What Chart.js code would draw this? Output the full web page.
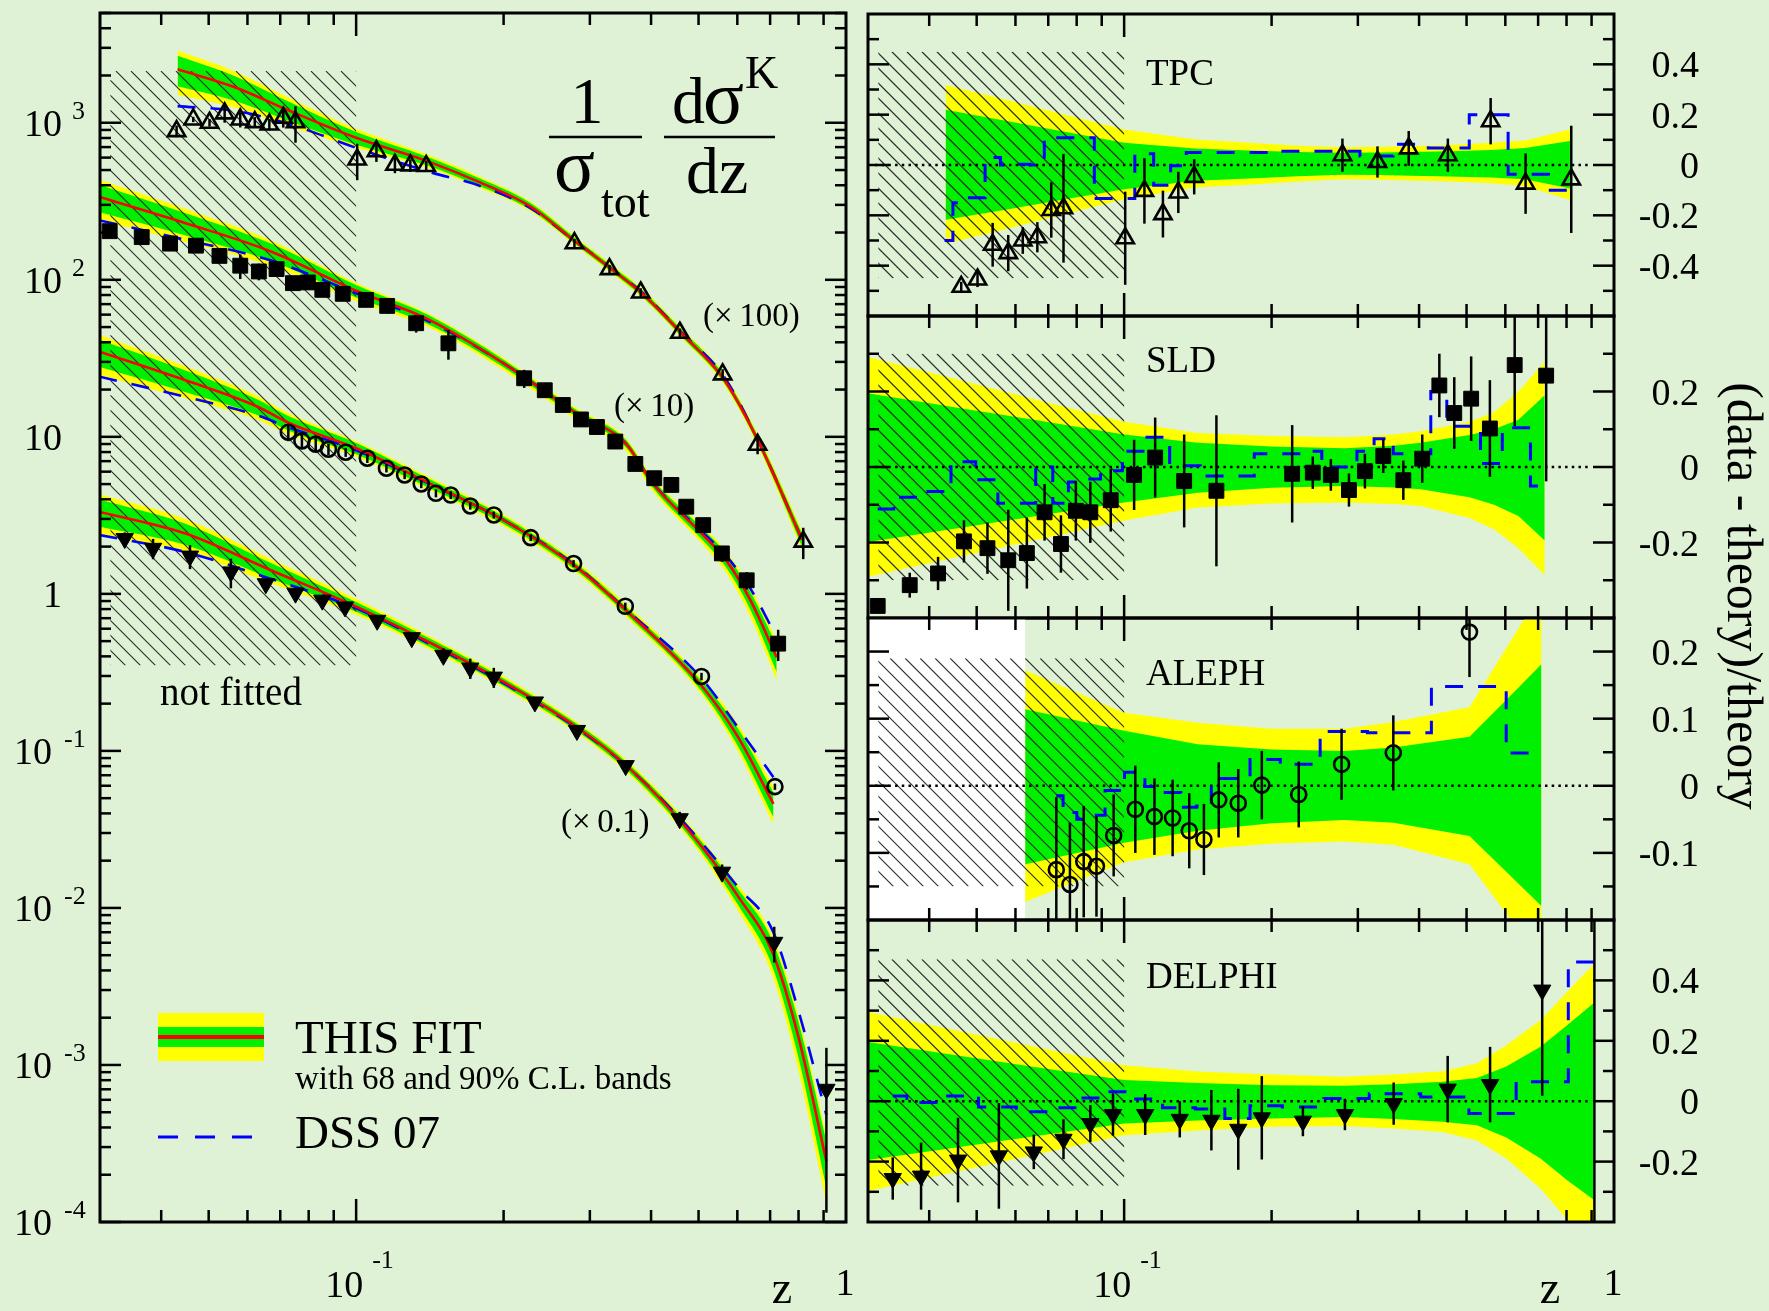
<!DOCTYPE html>
<html>
<head>
<meta charset="utf-8">
<title>Kaon fragmentation in e+e- annihilation: data, fit and DSS 07</title>
<script src="https://cdn.jsdelivr.net/npm/chart.js@4.4.1/dist/chart.umd.min.js"></script>
<style>
  html, body { margin: 0; padding: 0; background: #dff2d5; }
  #stage { position: relative; width: 1769px; height: 1311px; overflow: hidden; }
  #stage canvas { position: absolute; left: 0; top: 0; }
</style>
</head>
<body>
<div id="stage">
  <canvas id="cxs" width="1769" height="1311"></canvas>
  <canvas id="rTPC" width="1769" height="1311"></canvas>
  <canvas id="rSLD" width="1769" height="1311"></canvas>
  <canvas id="rALEPH" width="1769" height="1311"></canvas>
  <canvas id="rDELPHI" width="1769" height="1311"></canvas>
</div>
<script>
// ---------------- axes ----------------
const zMin = 0.03, zMax = 1;
const zMinorTicks = [0.04, 0.05, 0.06, 0.07, 0.08, 0.09, 0.2, 0.3, 0.4, 0.5, 0.6, 0.7, 0.8, 0.9];
const zMajorTicks = [0.1];
const zeroLineZ = [0.031, 0.9];
const hatchZ = [0.0315, 0.1];

// ---------------- TPC (x100) ----------------
const tpcZ       = [0.043, 0.0465, 0.0502, 0.0539, 0.058, 0.0621, 0.0665, 0.071, 0.0752, 0.1005, 0.110, 0.120, 0.129, 0.139, 0.279, 0.329, 0.381, 0.458, 0.56, 0.66, 0.818];
const tpcData    = [8.85, 10.5, 10.0, 11.47, 10.5, 10.1, 9.75, 10.76, 10.1, 5.83, 6.59, 5.4, 5.35, 5.3, 1.71, 1.17, 0.83, 0.46, 0.25, 0.089, 0.0215];
const tpcRatio   = [-0.65, -0.484, -0.455, -0.317, -0.35, -0.30, -0.287, -0.179, -0.172, -0.291, -0.103, -0.195, -0.109, -0.047, 0.039, 0.012, 0.066, 0.039, 0.174, -0.074, -0.057];
const tpcRatioErr= [0.03, 0.02, 0.03, 0.087, 0.072, 0.053, 0.06, 0.11, 0.216, 0.185, 0.13, 0.093, 0.082, 0.07, 0.066, 0.062, 0.069, 0.066, 0.092, 0.12, 0.213];
const tpcDss     = [-0.30, -0.15, -0.13, 0.03, 0.0, 0.003, 0.0, 0.108, 0.108, -0.133, 0.045, -0.08, -0.003, 0.05, 0.055, 0.036, 0.082, 0.068, 0.2, -0.037, -0.1];
const tpcNodeZ   = [0.0432, 0.0569, 0.0733, 0.1, 0.1396, 0.18, 0.2265, 0.2786, 0.331, 0.385, 0.462, 0.562, 0.659, 0.813];
const tpcFit     = [21.88, 16.71, 11.87, 8.02, 5.7, 4.14, 2.94, 1.78, 1.18, 0.81, 0.455, 0.235, 0.0967, 0.0222];
const tpcDssFit  = [12.77, 11.87, 9.76, 6.92, 4.91, 3.94, 2.87, 1.78, 1.19, 0.82, 0.46, 0.245, 0.0975, 0.0222];
const tpcUp90    = [0.318, 0.261, 0.207, 0.141, 0.101, 0.088, 0.076, 0.071, 0.073, 0.075, 0.079, 0.088, 0.097, 0.141];
const tpcUp68    = [0.22, 0.177, 0.137, 0.088, 0.066, 0.058, 0.052, 0.049, 0.05, 0.052, 0.055, 0.06, 0.068, 0.095];
const tpcLo68    = [-0.218, -0.179, -0.141, -0.096, -0.063, -0.054, -0.045, -0.039, -0.04, -0.043, -0.046, -0.05, -0.057, -0.093];
const tpcLo90    = [-0.313, -0.256, -0.202, -0.136, -0.089, -0.078, -0.066, -0.057, -0.059, -0.062, -0.066, -0.073, -0.083, -0.139];

// ---------------- SLD (x10) ----------------
const sldZ       = [0.0314, 0.0365, 0.0417, 0.0471, 0.0526, 0.058, 0.0633, 0.0688, 0.0743, 0.0797, 0.0853, 0.0939, 0.1048, 0.1157, 0.1326, 0.1543, 0.2203, 0.2427, 0.2642, 0.2877, 0.3101, 0.3381, 0.3715, 0.406, 0.44, 0.472, 0.511, 0.558, 0.627, 0.727];
const sldData    = [20.4, 18.7, 17.0, 16.5, 14.2, 12.3, 11.3, 11.7, 9.52, 9.62, 8.63, 8.14, 7.45, 6.82, 5.29, 3.94, 2.36, 1.98, 1.595, 1.29, 1.155, 0.933, 0.672, 0.545, 0.494, 0.359, 0.274, 0.181, 0.122, 0.0482];
const sldRatio   = [-0.368, -0.313, -0.282, -0.197, -0.215, -0.247, -0.228, -0.12, -0.204, -0.116, -0.12, -0.088, -0.021, 0.025, -0.037, -0.063, -0.018, -0.015, -0.021, -0.061, -0.011, 0.029, -0.035, 0.022, 0.216, 0.143, 0.181, 0.102, 0.27, 0.242];
const sldRatioErr= [0.02, 0.033, 0.044, 0.056, 0.068, 0.134, 0.094, 0.075, 0.076, 0.079, 0.081, 0.083, 0.093, 0.106, 0.123, 0.2, 0.129, 0.043, 0.042, 0.044, 0.046, 0.045, 0.052, 0.064, 0.084, 0.095, 0.112, 0.128, 0.162, 0.28];
const sldDss     = [-0.111, -0.08, -0.065, 0.014, -0.034, -0.096, -0.096, 0.0, -0.096, -0.04, -0.032, -0.01, 0.042, 0.079, 0.003, -0.024, 0.035, 0.042, 0.0, 0.0, 0.042, 0.075, 0.035, 0.035, 0.2, 0.108, 0.108, 0.009, 0.104, -0.05];
const sldNodeZ   = [0.0299, 0.0447, 0.0668, 0.1, 0.1413, 0.2, 0.2818, 0.3548, 0.403, 0.507, 0.569, 0.638, 0.722];
const sldFit     = [33.7, 23.0, 15.2, 8.52, 5.54, 2.94, 1.41, 0.91, 0.506, 0.243, 0.164, 0.0912, 0.0395];
const sldDssFit  = [23.9, 18.0, 13.3, 8.22, 5.4, 2.94, 1.41, 0.91, 0.51, 0.25, 0.175, 0.108, 0.053];
const sldUp90    = [0.292, 0.235, 0.177, 0.12, 0.09, 0.082, 0.079, 0.086, 0.095, 0.12, 0.145, 0.2, 0.279];
const sldUp68    = [0.196, 0.159, 0.123, 0.086, 0.064, 0.054, 0.05, 0.056, 0.064, 0.085, 0.1, 0.125, 0.19];
const sldLo68    = [-0.199, -0.164, -0.129, -0.094, -0.068, -0.055, -0.05, -0.054, -0.059, -0.08, -0.1, -0.13, -0.195];
const sldLo90    = [-0.291, -0.241, -0.192, -0.142, -0.107, -0.097, -0.094, -0.098, -0.103, -0.135, -0.165, -0.215, -0.286];

// ---------------- ALEPH (x1) ----------------
const alephZ       = [0.0727, 0.0775, 0.0827, 0.0878, 0.0952, 0.1054, 0.1153, 0.1256, 0.1358, 0.1455, 0.156, 0.171, 0.191, 0.2272, 0.2779, 0.3544, 0.507, 0.716];
const alephData    = [10.7, 9.42, 8.98, 8.34, 7.98, 7.31, 6.31, 5.72, 5.01, 4.37, 4.26, 3.63, 3.18, 2.28, 1.56, 0.834, 0.298, 0.0592];
const alephRatio   = [-0.125, -0.147, -0.113, -0.12, -0.074, -0.035, -0.046, -0.048, -0.067, -0.08, -0.021, -0.026, 0.001, -0.013, 0.032, 0.049, 0.229, 0.32];
const alephRatioErr= [0.108, 0.092, 0.083, 0.075, 0.061, 0.065, 0.057, 0.057, 0.056, 0.053, 0.056, 0.051, 0.051, 0.049, 0.053, 0.056, 0.067, 0.06];
const alephDss     = [-0.015, -0.04, -0.05, -0.044, -0.007, 0.02, -0.001, -0.01, -0.032, -0.03, 0.011, 0.011, 0.039, 0.032, 0.081, 0.079, 0.148, 0.049];
const alephNodeZ   = [0.0299, 0.0447, 0.0628, 0.0727, 0.1, 0.1413, 0.2, 0.2818, 0.3548, 0.507, 0.6026, 0.711];
const alephFit     = [34.9, 23.0, 15.6, 12.3, 8.45, 5.05, 2.95, 1.48, 0.79, 0.26, 0.122, 0.046];
const alephDssFit  = [24.2, 18.0, 13.7, 11.5, 8.2, 5.0, 2.95, 1.5, 0.8, 0.29, 0.14, 0.068];
const alephUp90    = [0.28, 0.23, 0.172, 0.152, 0.109, 0.094, 0.085, 0.085, 0.095, 0.117, 0.205, 0.29];
const alephUp68    = [0.19, 0.155, 0.114, 0.104, 0.082, 0.062, 0.054, 0.052, 0.057, 0.073, 0.128, 0.181];
const alephLo68    = [-0.2, -0.16, -0.117, -0.107, -0.085, -0.067, -0.056, -0.051, -0.055, -0.075, -0.128, -0.179];
const alephLo90    = [-0.29, -0.235, -0.173, -0.154, -0.114, -0.095, -0.086, -0.083, -0.088, -0.117, -0.19, -0.26];

// ---------------- DELPHI (x0.1) ----------------
const delphiZ       = [0.0337, 0.0385, 0.0458, 0.0555, 0.0654, 0.0752, 0.0853, 0.0949, 0.1104, 0.1299, 0.1507, 0.171, 0.191, 0.2317, 0.2823, 0.355, 0.4576, 0.5585, 0.7136, 0.912];
const delphiData    = [22.5, 19.5, 17.4, 13.8, 11.6, 10.1, 9.12, 8.26, 6.79, 5.26, 4.06, 3.37, 2.95, 2.05, 1.35, 0.806, 0.37, 0.169, 0.0604, 0.007];
const delphiRatio   = [-0.256, -0.248, -0.195, -0.181, -0.168, -0.126, -0.074, -0.044, -0.044, -0.06, -0.063, -0.093, -0.055, -0.066, -0.044, -0.008, 0.04, 0.055, 0.368, 1.87];
const delphiRatioErr= [0.07, 0.111, 0.14, 0.175, 0.057, 0.066, 0.061, 0.07, 0.068, 0.06, 0.1, 0.134, 0.138, 0.05, 0.052, 0.07, 0.11, 0.125, 0.35, 2.4];
const delphiDss     = [0.017, -0.004, 0.017, -0.019, -0.035, -0.022, 0.011, 0.031, 0.007, -0.022, -0.026, -0.057, -0.015, -0.019, 0.009, 0.025, 0.014, -0.041, 0.064, 0.461];
const delphiNodeZ   = [0.0299, 0.0447, 0.0668, 0.1, 0.1413, 0.2, 0.2818, 0.3548, 0.4467, 0.5248, 0.6026, 0.7079, 0.8, 0.912];
const delphiFit     = [33.3, 24.3, 14.2, 8.3, 4.9, 2.75, 1.42, 0.815, 0.395, 0.215, 0.118, 0.052, 0.015, 0.00244];
const delphiDssFit  = [23.7, 18.5, 12.5, 8.1, 4.8, 2.7, 1.4, 0.81, 0.405, 0.23, 0.135, 0.072, 0.022, 0.0048];
const delphiUp90    = [0.296, 0.237, 0.178, 0.119, 0.098, 0.088, 0.081, 0.088, 0.099, 0.125, 0.185, 0.268, 0.36, 0.456];
const delphiUp68    = [0.196, 0.154, 0.112, 0.07, 0.06, 0.053, 0.051, 0.056, 0.064, 0.077, 0.115, 0.18, 0.25, 0.327];
const delphiLo68    = [-0.195, -0.155, -0.114, -0.074, -0.064, -0.057, -0.052, -0.059, -0.068, -0.08, -0.12, -0.19, -0.26, -0.328];
const delphiLo90    = [-0.298, -0.236, -0.175, -0.113, -0.097, -0.085, -0.082, -0.09, -0.102, -0.13, -0.19, -0.289, -0.39, -0.47];

// ---------------- styling ----------------
const FONT = '"Liberation Serif", "Times New Roman", serif';
const YELLOW = '#ffff00', GREEN = '#00f000', RED = '#ff0000', BLUE = '#0000ff', INK = '#000000';
const DASH = [18, 15];

const experiments = [
  { name: 'TPC', k: 100, z: tpcZ, data: tpcData, ratio: tpcRatio, err: tpcRatioErr, dss: tpcDss,
    nodeZ: tpcNodeZ, fit: tpcFit, dssFit: tpcDssFit, up90: tpcUp90, up68: tpcUp68, lo68: tpcLo68, lo90: tpcLo90,
    marker: { style: 'triangle', rot: 0, r: 10, open: true }, bandFrom: 0,
    yRange: [-0.6, 0.6], yMajor: [-0.4, -0.2, 0, 0.2, 0.4], yMinor: [-0.5, -0.3, -0.1, 0.1, 0.3, 0.5],
    hatchY: [-0.45, 0.45], top: 14, bottom: 316, labelY: 85 },
  { name: 'SLD', k: 10, z: sldZ, data: sldData, ratio: sldRatio, err: sldRatioErr, dss: sldDss,
    nodeZ: sldNodeZ, fit: sldFit, dssFit: sldDssFit, up90: sldUp90, up68: sldUp68, lo68: sldLo68, lo90: sldLo90,
    marker: { style: 'rect', rot: 0, r: 10.5, open: false }, bandFrom: 0,
    yRange: [-0.4, 0.4], yMajor: [-0.2, 0, 0.2], yMinor: [-0.3, -0.1, 0.1, 0.3],
    hatchY: [-0.3, 0.3], top: 316, bottom: 618, labelY: 372 },
  { name: 'ALEPH', k: 1, z: alephZ, data: alephData, ratio: alephRatio, err: alephRatioErr, dss: alephDss,
    nodeZ: alephNodeZ, fit: alephFit, dssFit: alephDssFit, up90: alephUp90, up68: alephUp68, lo68: alephLo68, lo90: alephLo90,
    marker: { style: 'circle', rot: 0, r: 7.5, open: true }, bandFrom: 0.0628, whiteTo: 0.0628,
    yRange: [-0.2, 0.25], yMajor: [-0.1, 0, 0.1, 0.2], yMinor: [-0.15, -0.05, 0.05, 0.15],
    hatchY: [-0.15, 0.19], top: 618, bottom: 920, labelY: 685 },
  { name: 'DELPHI', k: 0.1, z: delphiZ, data: delphiData, ratio: delphiRatio, err: delphiRatioErr, dss: delphiDss,
    nodeZ: delphiNodeZ, fit: delphiFit, dssFit: delphiDssFit, up90: delphiUp90, up68: delphiUp68, lo68: delphiLo68, lo90: delphiLo90,
    marker: { style: 'triangle', rot: 180, r: 10, open: false }, bandFrom: 0,
    yRange: [-0.4, 0.6], yMajor: [-0.2, 0, 0.2, 0.4], yMinor: [-0.3, -0.1, 0.1, 0.3, 0.5],
    hatchY: [-0.28, 0.47], top: 920, bottom: 1222, labelY: 988 }
];

// ---------------- helpers ----------------
const xy = (zs, vs, k = 1) => zs.map((z, i) => ({ x: z, y: vs[i] * k }));

function txt(ctx, s, x, y, size, align = 'left') {
  ctx.font = size + 'px ' + FONT;
  ctx.textAlign = align;
  ctx.textBaseline = 'alphabetic';
  ctx.fillStyle = INK;
  ctx.fillText(s, x, y);
}

function seg(ctx, x1, y1, x2, y2) {
  ctx.beginPath(); ctx.moveTo(x1, y1); ctx.lineTo(x2, y2); ctx.stroke();
}

function markerSet(e, data, lo, hi) {
  const m = e.marker;
  return {
    data, showLine: false, order: 10, clip: 0,
    pointStyle: m.style, pointRotation: m.rot, pointRadius: m.r, pointHoverRadius: m.r,
    pointBorderWidth: m.open ? 2.6 : 1, pointBorderColor: INK,
    pointBackgroundColor: m.open ? 'rgba(0,0,0,0)' : INK,
    yLo: lo, yHi: hi
  };
}

// cross sections with the fit bands, left panel
function leftSets(e) {
  const k = e.k;
  const edge = rel => e.nodeZ.map((z, i) => ({ x: z, y: e.fit[i] * (1 + rel[i]) * k }));
  const band = { pointRadius: 0, borderColor: 'transparent', borderWidth: 0, cubicInterpolationMode: 'monotone', clip: 0 };
  const rel = e.ratio.map((r, i) => e.err[i] / (1 + r));
  return [
    { ...band, data: edge(e.up90), fill: '+1', backgroundColor: YELLOW, order: 30 },
    { ...band, data: edge(e.lo90), fill: false, order: 30 },
    { ...band, data: edge(e.up68), fill: '+1', backgroundColor: GREEN, order: 29 },
    { ...band, data: edge(e.lo68), fill: false, order: 29 },
    { data: xy(e.nodeZ, e.fit, k), pointRadius: 0, borderColor: RED, borderWidth: 2.6, fill: false,
      cubicInterpolationMode: 'monotone', order: 18, clip: 0 },
    { data: xy(e.nodeZ, e.dssFit, k), pointRadius: 0, borderColor: BLUE, borderWidth: 2.6, borderDash: DASH,
      fill: false, cubicInterpolationMode: 'monotone', order: 19, hatchBefore: true, clip: 0 },
    markerSet(e, xy(e.z, e.data, k),
      e.data.map((v, i) => Math.max(v * k * (1 - rel[i]), 1e-6)),
      e.data.map((v, i) => v * k * (1 + rel[i])))
  ];
}

// (data - theory)/theory, right panels
function rightSets(e) {
  const idx = e.nodeZ.map((z, i) => i).filter(i => e.nodeZ[i] >= e.bandFrom - 1e-9);
  const edge = rel => idx.map(i => ({ x: e.nodeZ[i], y: rel[i] }));
  const band = { pointRadius: 0, borderColor: 'transparent', borderWidth: 0, tension: 0, clip: 0 };
  return [
    { ...band, data: edge(e.up90), fill: '+1', backgroundColor: YELLOW, order: 30 },
    { ...band, data: edge(e.lo90), fill: false, order: 30 },
    { ...band, data: edge(e.up68), fill: '+1', backgroundColor: GREEN, order: 29 },
    { ...band, data: edge(e.lo68), fill: false, order: 29 },
    { data: xy(zeroLineZ, [0, 0]), pointRadius: 0, borderColor: INK, borderWidth: 2.5, borderDash: [2.5, 4.2],
      fill: false, order: 16, hatchBefore: true, clip: 0 },
    { data: xy(e.z, e.dss), stepped: 'middle', pointRadius: 0, borderColor: BLUE, borderWidth: 3, borderDash: DASH,
      fill: false, order: 15, clip: 0 },
    markerSet(e, xy(e.z, e.ratio),
      e.ratio.map((r, i) => r - e.err[i]),
      e.ratio.map((r, i) => r + e.err[i]))
  ];
}

function drawHatch(chart, yRange) {
  const ctx = chart.ctx, xs = chart.scales.x, ys = chart.scales.y;
  const x0 = xs.getPixelForValue(hatchZ[0]), x1 = xs.getPixelForValue(hatchZ[1]);
  const yTop = ys.getPixelForValue(yRange[1]), yBot = ys.getPixelForValue(yRange[0]);
  const H = yBot - yTop;
  ctx.save();
  ctx.beginPath(); ctx.rect(x0, yTop, x1 - x0, H); ctx.clip();
  ctx.strokeStyle = '#2a2a2a'; ctx.lineWidth = 1.1; ctx.setLineDash([]);
  for (let s = x0 - H; s < x1 + 2; s += 15) seg(ctx, s, yTop, s + H, yBot);
  ctx.restore();
}

function drawErrorBars(chart, ds) {
  const ctx = chart.ctx, xs = chart.scales.x, ys = chart.scales.y, a = chart.chartArea;
  ctx.save();
  ctx.beginPath(); ctx.rect(a.left, a.top, a.right - a.left, a.bottom - a.top); ctx.clip();
  ctx.strokeStyle = INK; ctx.lineWidth = 2.5; ctx.setLineDash([]);
  ds.data.forEach((p, i) => {
    const px = xs.getPixelForValue(p.x);
    seg(ctx, px, ys.getPixelForValue(ds.yLo[i]), px, ys.getPixelForValue(ds.yHi[i]));
  });
  ctx.restore();
}

function drawFrame(chart, yMajor, yMinor) {
  const ctx = chart.ctx, a = chart.chartArea, xs = chart.scales.x, ys = chart.scales.y;
  ctx.save();
  ctx.strokeStyle = INK; ctx.lineWidth = 2.5; ctx.setLineDash([]);
  zMinorTicks.forEach(v => { const p = xs.getPixelForValue(v); seg(ctx, p, a.bottom, p, a.bottom - 12); seg(ctx, p, a.top, p, a.top + 12); });
  zMajorTicks.forEach(v => { const p = xs.getPixelForValue(v); seg(ctx, p, a.bottom, p, a.bottom - 23); seg(ctx, p, a.top, p, a.top + 23); });
  yMinor.forEach(v => { const p = ys.getPixelForValue(v); seg(ctx, a.left, p, a.left + 11, p); seg(ctx, a.right, p, a.right - 11, p); });
  yMajor.forEach(v => { const p = ys.getPixelForValue(v); seg(ctx, a.left, p, a.left + 21, p); seg(ctx, a.right, p, a.right - 21, p); });
  ctx.lineWidth = 3;
  ctx.strokeRect(a.left, a.top, a.right - a.left, a.bottom - a.top);
  ctx.restore();
}

function drawZLabels(chart) {
  const ctx = chart.ctx, xs = chart.scales.x;
  const p = xs.getPixelForValue(0.1), p1 = xs.getPixelForValue(1);
  txt(ctx, '10', p - 31, 1297, 38);
  txt(ctx, '-1', p + 16, 1268, 26);
  txt(ctx, '1', p1 - 1, 1295, 38, 'center');
  txt(ctx, 'z', p1 - 64, 1303, 46, 'center');
}

function panelPlugin(cfg) {
  return {
    id: 'panel' + cfg.key,
    beforeDraw(chart) { chart.$hatched = false; },
    beforeDatasetsDraw(chart) {
      if (cfg.whiteTo) {
        const a = chart.chartArea, ctx = chart.ctx;
        const xw = chart.scales.x.getPixelForValue(cfg.whiteTo);
        ctx.save(); ctx.fillStyle = '#ffffff'; ctx.fillRect(a.left, a.top, xw - a.left, a.bottom - a.top); ctx.restore();
      }
    },
    beforeDatasetDraw(chart, args) {
      const ds = chart.data.datasets[args.index];
      if (ds.hatchBefore && !chart.$hatched) { drawHatch(chart, cfg.hatchY); chart.$hatched = true; }
      if (ds.yLo) drawErrorBars(chart, ds);
    },
    afterDatasetsDraw(chart) { drawFrame(chart, cfg.yMajor, cfg.yMinor); },
    afterDraw(chart) { cfg.labels(chart); }
  };
}

function options(pad, yScale) {
  return {
    responsive: false, animation: false, events: [], devicePixelRatio: 1,
    layout: { padding: pad },
    plugins: { legend: { display: false }, tooltip: { enabled: false } },
    scales: {
      x: { type: 'logarithmic', min: zMin, max: zMax, display: false },
      y: Object.assign({ display: false }, yScale)
    }
  };
}

// ---------------- left panel: 1/sigma dsigma/dz ----------------
const leftMajor = [], leftMinor = [];
for (let e = -4; e <= 3; e++) {
  leftMajor.push(Math.pow(10, e));
  for (let m = 2; m <= 9; m++) if (m * Math.pow(10, e) <= 5000) leftMinor.push(m * Math.pow(10, e));
}

function leftLabels(chart) {
  const ctx = chart.ctx, ys = chart.scales.y;
  for (let e = -4; e <= 3; e++) {
    const base = ys.getPixelForValue(Math.pow(10, e)) + 13;
    if (e === 0) txt(ctx, '1', 62, base, 38, 'right');
    else if (e === 1) txt(ctx, '10', 62, base, 38, 'right');
    else if (e > 1) { txt(ctx, '10', 62, base, 38, 'right'); txt(ctx, String(e), 72, base - 17, 26); }
    else { txt(ctx, '10', 52, base, 38, 'right'); txt(ctx, String(e), 64, base - 17, 26); }
  }
  drawZLabels(chart);

  // 1/sigma_tot  d sigma^K / dz
  ctx.save();
  ctx.strokeStyle = INK; ctx.lineWidth = 2.5;
  txt(ctx, '1', 587, 123, 66, 'center');
  seg(ctx, 549, 137, 642, 137);
  txt(ctx, '\u03c3', 554, 191, 76);
  txt(ctx, 'tot', 601, 217, 46);
  txt(ctx, 'd', 672, 123, 66);
  txt(ctx, '\u03c3', 703, 123, 76);
  txt(ctx, 'K', 745, 88, 46);
  seg(ctx, 664, 137, 775, 137);
  txt(ctx, 'dz', 686, 193, 66);
  ctx.restore();

  txt(ctx, '(\u00d7\u2009100)', 703, 326, 33);
  txt(ctx, '(\u00d7\u200910)', 614, 416, 33);
  txt(ctx, '(\u00d7\u20090.1)', 561, 832, 33);
  txt(ctx, 'not fitted', 160, 705, 39);

  // legend
  ctx.save();
  ctx.fillStyle = YELLOW; ctx.fillRect(158, 1013, 106, 48);
  ctx.fillStyle = GREEN; ctx.fillRect(158, 1027, 106, 20);
  ctx.fillStyle = RED; ctx.fillRect(158, 1035, 106, 4);
  ctx.strokeStyle = BLUE; ctx.lineWidth = 3; ctx.setLineDash([20, 17]);
  seg(ctx, 158, 1137, 254, 1137);
  ctx.restore();
  txt(ctx, 'THIS FIT', 295, 1053, 47);
  txt(ctx, 'with 68 and 90% C.L. bands', 295, 1089, 33);
  txt(ctx, 'DSS 07', 295, 1148, 47);
}

new Chart(document.getElementById('cxs'), {
  type: 'line',
  data: { datasets: experiments.flatMap(leftSets) },
  options: options({ left: 100, top: 13, right: 1769 - 846, bottom: 1311 - 1222 },
                   { type: 'logarithmic', min: 1e-4, max: 5000 }),
  plugins: [panelPlugin({ key: 'xs', hatchY: [0.35, 2134], yMajor: leftMajor, yMinor: leftMinor, labels: leftLabels })]
});

// ---------------- right panels: (data - theory)/theory ----------------
const fmt = v => (v === 0 ? '0' : v.toFixed(1));

experiments.forEach((e, i) => {
  const labels = chart => {
    const ctx = chart.ctx, ys = chart.scales.y;
    e.yMajor.forEach(v => txt(ctx, fmt(v), 1699, ys.getPixelForValue(v) + 13, 38, 'right'));
    txt(ctx, e.name, 1146, e.labelY, 37);
    if (i === experiments.length - 1) drawZLabels(chart);
    if (i === 1) {
      ctx.save();
      ctx.translate(1741, 596);
      ctx.rotate(Math.PI / 2);
      ctx.font = '50px ' + FONT; ctx.textAlign = 'center'; ctx.textBaseline = 'middle'; ctx.fillStyle = INK;
      ctx.fillText('(data - theory)/theory', 0, 0);
      ctx.restore();
    }
  };
  new Chart(document.getElementById('r' + e.name), {
    type: 'line',
    data: { datasets: rightSets(e) },
    options: options({ left: 868, right: 1769 - 1614, top: e.top, bottom: 1311 - e.bottom },
                     { type: 'linear', min: e.yRange[0], max: e.yRange[1] }),
    plugins: [panelPlugin({ key: e.name, hatchY: e.hatchY, whiteTo: e.whiteTo, yMajor: e.yMajor, yMinor: e.yMinor, labels })]
  });
});
</script>
</body>
</html>
